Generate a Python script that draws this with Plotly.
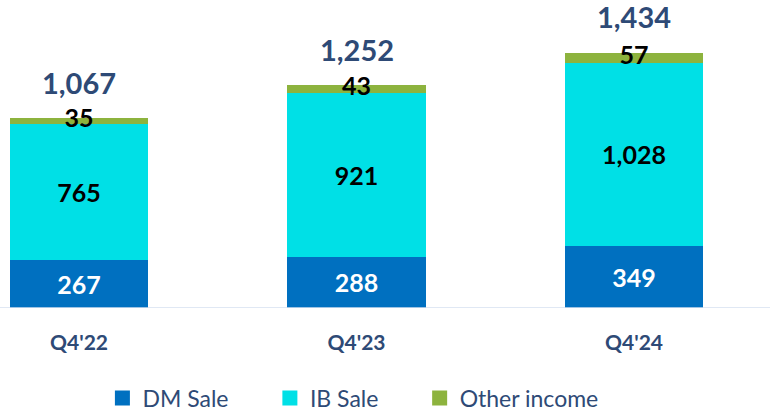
import plotly.graph_objects as go

categories = ["Q4'22", "Q4'23", "Q4'24"]
dm_sale = [267, 288, 349]
ib_sale = [765, 921, 1028]
other_income = [35, 43, 57]
totals = [1067, 1252, 1434]

C_DM = "#0070C0"
C_IB = "#00E0E6"
C_OT = "#8DB33E"
C_TXT = "#2E4A76"
FONT = "Lato"

xs = list(range(len(categories)))
fig = go.Figure()

fig.add_trace(go.Bar(x=xs, y=dm_sale, marker=dict(color=C_DM, line=dict(width=0)), width=0.5,
                     text=[f"{v:,}" for v in dm_sale], textposition="inside", insidetextanchor="middle",
                     textfont=dict(family=FONT, size=25, color="white", weight="bold"),
                     showlegend=False))
fig.add_trace(go.Bar(x=xs, y=ib_sale, marker=dict(color=C_IB, line=dict(width=0)), width=0.5,
                     text=[f"{v:,}" for v in ib_sale], textposition="inside", insidetextanchor="middle",
                     textfont=dict(family=FONT, size=25, color="black", weight="bold"),
                     showlegend=False))
fig.add_trace(go.Bar(x=xs, y=other_income, marker=dict(color=C_OT, line=dict(width=0)), width=0.5,
                     showlegend=False))

# labels for thin "other income" segment
ot_mid = [d + i + o / 2 for d, i, o in zip(dm_sale, ib_sale, other_income)]
fig.add_trace(go.Scatter(x=xs, y=ot_mid, mode="text", text=[f"{v:,}" for v in other_income],
                         textposition="middle center",
                         textfont=dict(family=FONT, size=25, color="black", weight="bold"),
                         showlegend=False, hoverinfo="skip", cliponaxis=False))

for x, t in zip(xs, totals):
    fig.add_annotation(x=x, y=t, text=f"{t:,}", showarrow=False, yanchor="middle", yshift=36,
                       font=dict(family=FONT, size=29, color=C_TXT, weight="bold"))

# legend proxies, each in its own legend for exact placement
leg_names = ["DM Sale", "IB Sale", "Other income"]
leg_colors = [C_DM, C_IB, C_OT]
leg_ids = ["legend", "legend2", "legend3"]
leg_x = [0.133, 0.3505, 0.545]
for name, c, lid in zip(leg_names, leg_colors, leg_ids):
    fig.add_trace(go.Scatter(x=[None], y=[None], mode="markers", name=name, legend=lid,
                             marker=dict(symbol="square", size=15, color=c)))

leg_common = dict(orientation="h", xanchor="left", yref="container", y=0.034, yanchor="middle",
                  font=dict(family=FONT, size=23, color=C_TXT), itemwidth=30,
                  bgcolor="rgba(0,0,0,0)")
fig.update_layout(
    width=770, height=412,
    margin=dict(l=0, r=0, t=0, b=104, autoexpand=False),
    barmode="stack",
    plot_bgcolor="white", paper_bgcolor="white",
    font=dict(family=FONT, color=C_TXT),
    legend=dict(x=leg_x[0], **leg_common),
    legend2=dict(x=leg_x[1], **leg_common),
    legend3=dict(x=leg_x[2], **leg_common),
    xaxis=dict(range=[-0.2847, 2.490], tickvals=xs, ticktext=categories, showgrid=False,
               zeroline=False, showline=False, ticks="", ticklabelstandoff=20,
               tickfont=dict(family=FONT, size=21, color=C_TXT, weight="bold")),
    yaxis=dict(range=[0, 1730], visible=False),
    showlegend=True,
)
fig.add_shape(type="line", xref="paper", yref="y", x0=0, x1=1, y0=0, y1=0,
              line=dict(color="#D6E0F0", width=1.5))

fig.write_html("out.html", config={"displayModeBar": False},
               post_script="document.body.style.margin='0';")
